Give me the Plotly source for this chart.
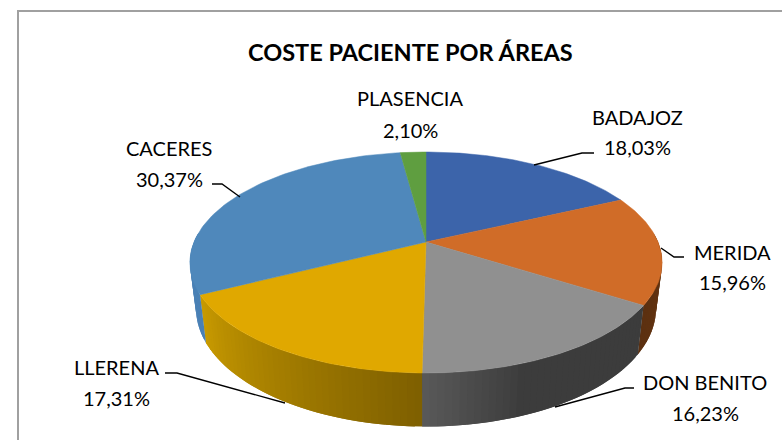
import numpy as np
import plotly.graph_objects as go

title = "COSTE PACIENTE POR ÁREAS"
areas = ["BADAJOZ", "MERIDA", "DON BENITO", "LLERENA", "CACERES", "PLASENCIA"]
shares = [18.03, 15.96, 16.23, 17.31, 30.37, 2.10]
top_colors = ["#3c64aa", "#d06c28", "#909090", "#e0a800", "#4f88bb", "#5f9e40"]
side_left = ["#2c4a80", "#5c3010", "#585858", "#c89a00", "#4a80b5", "#477530"]
side_right = ["#2c4a80", "#6a3810", "#3c3c3c", "#7f6000", "#4a80b5", "#477530"]
label_text_pos = {
    "BADAJOZ": (637, 117, 147), "MERIDA": (732, 252, 282), "DON BENITO": (705, 382, 413),
    "LLERENA": (116, 367, 398), "CACERES": (169, 148, 179), "PLASENCIA": (410, 98, 130),
}
leaders = {
    "BADAJOZ": [(534, 165), (582, 153), (594, 153)],
    "MERIDA": [(661, 248), (674, 257), (684, 257)],
    "DON BENITO": [(555, 407), (625, 388), (634, 388)],
    "LLERENA": [(285, 403), (177, 373), (165, 373)],
    "CACERES": [(240, 197), (222, 184), (212, 184)],
}


def top(theta):
    u, v = np.sin(theta), np.cos(theta)
    w = 1 + 0.1855 * v
    return 426 + 232 * u / w, 242 - 106.7 * v / w


def bottom(theta):
    u, v = np.sin(theta), np.cos(theta)
    w = 1 + 0.1855 * v
    return 426 + 226 * u / w, 286.6 - 114 * v / w


def mix(c1, c2, t):
    a = [int(c1[i:i + 2], 16) for i in (1, 3, 5)]
    b = [int(c2[i:i + 2], 16) for i in (1, 3, 5)]
    return "rgb(%d,%d,%d)" % tuple(round(x + (y - x) * t) for x, y in zip(a, b))


fig = go.Figure()


def poly(xs, ys, color, lw=0.5):
    fig.add_trace(go.Scatter(x=list(xs), y=list(ys), mode="lines", fill="toself", fillcolor=color,
                             line=dict(color=color, width=lw), hoverinfo="skip", showlegend=False))


edges = np.radians(np.concatenate([[0], np.cumsum(shares)]) * 3.6)
lo, hi = np.radians(85), np.radians(275)
# side wall: strips painted from the right of the screen, each one overlapping the previous
for i in range(len(shares)):
    a0, a1 = max(edges[i], lo), min(edges[i + 1], hi)
    if a1 <= a0:
        continue
    n = max(2, int(np.degrees(a1 - a0) / 1.5))
    steps = np.linspace(a0, a1, n + 1)
    for j in range(n):
        # overlap into the following strip so no seam shows between neighbours
        end = min(steps[min(j + 2, n)], a1)
        t = np.linspace(steps[j], end, 3)
        tx, ty = top(t)
        bx, by = bottom(t)
        f = (n - 1 - j) / max(n - 1, 1)
        if areas[i] == "DON BENITO":
            f = min(1.0, f * 2.8)
        c = mix(side_left[i], side_right[i], f)
        poly(np.r_[tx, bx[::-1]], np.r_[ty, by[::-1]], c, lw=0)

# top face
for i in range(len(shares)):
    t = np.linspace(edges[i], edges[i + 1], 80)
    x, y = top(t)
    poly(np.r_[426, x, 426], np.r_[242, y, 242], top_colors[i])

# leader lines
for name, pts in leaders.items():
    fig.add_trace(go.Scatter(x=[p[0] for p in pts], y=[p[1] for p in pts], mode="lines",
                             line=dict(color="#000000", width=1.4), hoverinfo="skip", showlegend=False))

# chart frame (left and top edges)
fig.add_trace(go.Scatter(x=[18, 18, 782], y=[440, 11, 11], mode="lines",
                         line=dict(color="#a0a0a0", width=2), hoverinfo="skip", showlegend=False))

font = dict(family="Lato, Carlito, Calibri, sans-serif", color="#000000", size=20)
ann = [dict(x=410, y=52, text="<b>%s</b>" % title, showarrow=False, xref="x", yref="y",
            font=dict(family=font["family"], color="#000000", size=23.5))]
for name, val in zip(areas, shares):
    px, y1, y2 = label_text_pos[name]
    ann.append(dict(x=px, y=y1, text=name, showarrow=False, xref="x", yref="y", font=font))
    ann.append(dict(x=px, y=y2, text=("%.2f%%" % val).replace(".", ","), showarrow=False,
                    xref="x", yref="y", font=font))

fig.update_layout(
    width=782, height=440, margin=dict(l=0, r=0, t=0, b=0),
    paper_bgcolor="#ffffff", plot_bgcolor="#ffffff", annotations=ann,
    xaxis=dict(range=[0, 782], visible=False, fixedrange=True),
    yaxis=dict(range=[440, 0], visible=False, fixedrange=True),
)
fig.write_html("out.html", config={"displayModeBar": False},
               post_script="document.body.style.margin='0';document.body.style.overflow='hidden';")
